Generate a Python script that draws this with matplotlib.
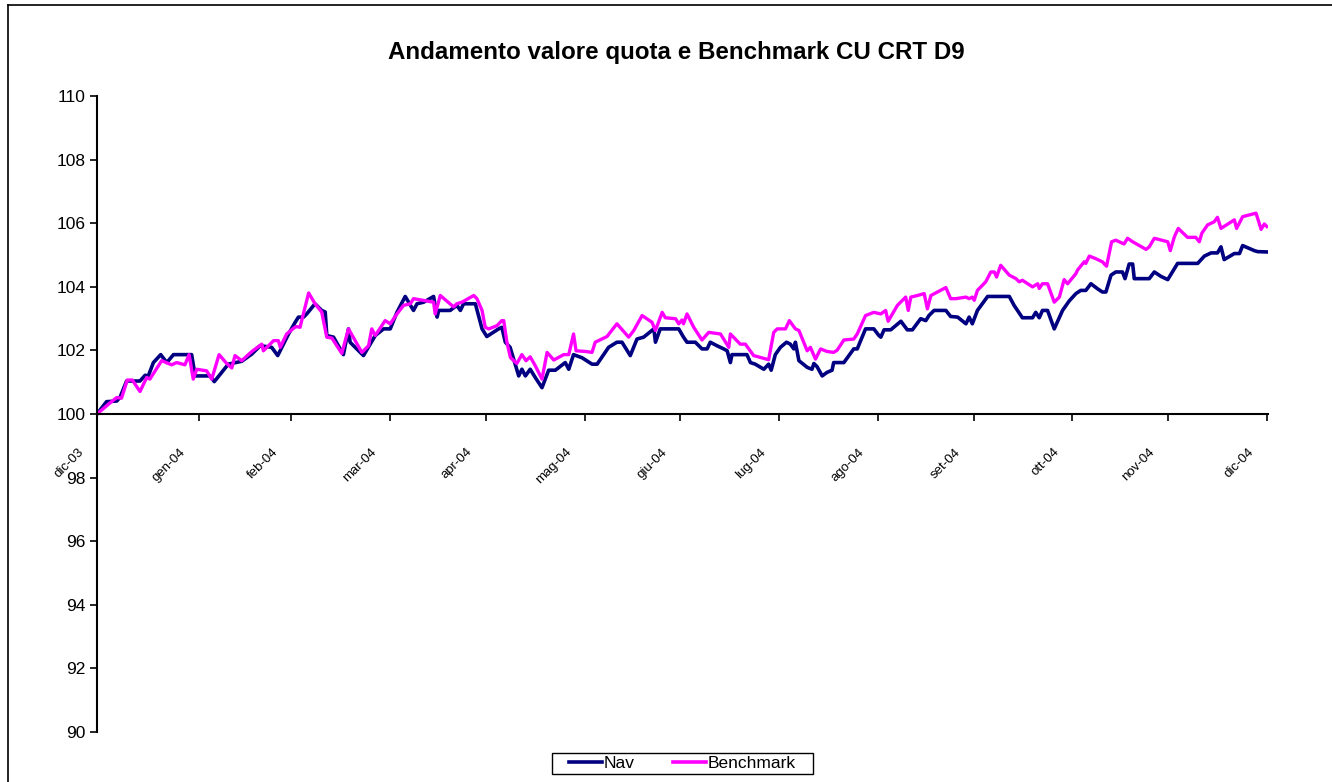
import pandas as pd
import matplotlib
matplotlib.use("Agg")
import matplotlib.pyplot as plt
import matplotlib.dates as mdates
import matplotlib.transforms as mtransforms
from matplotlib.lines import Line2D
from matplotlib.patches import Rectangle

plt.rcParams["font.family"] = ["Liberation Sans", "DejaVu Sans"]

# --- DATA (giorni dal 30/12/2003) ---
START = pd.Timestamp("2003-12-30")

nav_days = [0, 3.0, 6.2, 7.2, 9.3, 13.5, 15.1, 16.1, 17.7, 20.0, 21.9, 24.0, 29.7, 30.8, 35.5,
            36.8, 41.2, 45.4, 48.6, 51.2, 54.8, 56.7, 60.1, 62.2, 63.2, 64.8, 65.8, 68.4, 70.5,
            71.6, 72.1, 74.2, 77.3, 78.9, 79.4, 83.6, 85.7, 87.3, 89.9, 92.0, 94.1, 96.7, 99.3,
            100.4, 102.5, 105.6, 106.7, 107.2, 110.8, 112.9, 114.0, 115.0, 118.7, 120.8, 122.3,
            126.0, 127.0, 128.1, 129.6, 131.2, 132.3, 133.3, 134.4, 135.9, 137.5, 139.6, 141.7,
            143.8, 146.9, 148.0, 149.5, 152.2, 155.3, 156.9, 160.5, 163.1, 164.7, 167.3, 169.4,
            171.5, 174.7, 175.2, 176.7, 182.5, 184.0, 185.1, 187.7, 189.8, 191.4, 192.4, 194.5,
            196.6, 197.7, 198.7, 199.2, 203.9, 205.0, 206.5, 209.2, 210.7, 211.5, 212.8, 214.4,
            216.3, 217.5, 218.6, 219.1, 220.2, 222.8, 224.3, 224.9, 225.9, 227.5, 229.0, 230.6,
            231.1, 234.3, 237.4, 238.5, 241.1, 243.7, 245.3, 245.9, 246.9, 249.0, 252.2, 254.2,
            255.8, 258.4, 260.0, 261.0, 262.6, 266.3, 267.8, 270.0, 272.6, 273.6, 274.6, 276.2,
            279.4, 286.2, 287.7, 290.3, 293.5, 294.5, 295.6, 296.6, 298.2, 300.3, 302.9, 305.0,
            307.1, 308.6, 310.2, 311.8, 313.9, 315.4, 316.5, 318.1, 319.6, 321.7, 322.5, 323.8,
            324.9, 325.4, 330.1, 331.7, 333.8, 335.9, 339.0, 345.3, 347.4, 349.5, 351.5, 352.6,
            353.6, 356.8, 358.4, 359.4, 363.1, 364.1, 367.0]
nav_vals = [100.0, 100.39, 100.41, 100.52, 101.04, 101.04, 101.22, 101.2, 101.62, 101.87, 101.62,
            101.87, 101.87, 101.2, 101.2, 101.02, 101.57, 101.66, 101.89, 102.15, 102.1, 101.84,
            102.52, 102.89, 103.05, 103.05, 103.15, 103.47, 103.26, 103.21, 102.47, 102.42, 101.87,
            102.68, 102.26, 101.84, 102.2, 102.47, 102.68, 102.68, 103.2, 103.7, 103.26, 103.47,
            103.52, 103.7, 103.05, 103.26, 103.26, 103.42, 103.26, 103.47, 103.47, 102.68, 102.44,
            102.68, 102.73, 102.26, 102.1, 101.57, 101.2, 101.41, 101.2, 101.41, 101.15, 100.83,
            101.38, 101.38, 101.62, 101.41, 101.87, 101.77, 101.57, 101.57, 102.1, 102.26, 102.26,
            101.84, 102.36, 102.42, 102.68, 102.26, 102.68, 102.68, 102.42, 102.26, 102.26, 102.05,
            102.05, 102.26, 102.15, 102.05, 101.99, 101.62, 101.87, 101.87, 101.62, 101.57, 101.41,
            101.57, 101.38, 101.87, 102.1, 102.26, 102.2, 102.05, 102.26, 101.68, 101.47, 101.41,
            101.59, 101.49, 101.2, 101.31, 101.38, 101.62, 101.62, 102.05, 102.05, 102.68, 102.68,
            102.47, 102.42, 102.65, 102.65, 102.92, 102.65, 102.65, 103.0, 102.94, 103.1, 103.26,
            103.26, 103.07, 103.05, 102.84, 103.05, 102.84, 103.26, 103.7, 103.7, 103.42, 103.03,
            103.03, 103.2, 103.03, 103.26, 103.26, 102.68, 103.26, 103.56, 103.79, 103.89, 103.89,
            104.1, 103.94, 103.84, 103.84, 104.37, 104.47, 104.47, 104.26, 104.72, 104.72, 104.26,
            104.26, 104.47, 104.33, 104.23, 104.74, 104.74, 104.97, 105.07, 105.07, 105.26, 104.86,
            105.05, 105.05, 105.3, 105.14, 105.11, 105.1]

bmk_days = [0, 3.6, 6.2, 7.7, 9.5, 11.1, 13.5, 15.6, 16.6, 20.3, 23.4, 25.0, 27.6, 28.9, 30.2,
            31.3, 34.4, 36.0, 38.3, 40.7, 42.3, 43.3, 45.4, 48.6, 51.7, 52.2, 55.4, 56.9, 57.5,
            59.5, 62.2, 62.7, 63.7, 66.4, 68.4, 70.5, 72.1, 73.7, 76.8, 78.9, 83.1, 85.2, 86.2,
            87.3, 90.4, 92.0, 94.1, 96.2, 98.3, 99.3, 105.6, 106.1, 107.7, 111.9, 112.9, 114.5,
            118.2, 119.2, 120.8, 121.8, 122.9, 125.5, 127.0, 127.6, 128.6, 129.7, 131.7, 133.3,
            134.6, 135.9, 137.5, 139.6, 141.2, 143.3, 146.4, 148.0, 149.5, 150.3, 153.2, 155.3,
            156.3, 160.0, 163.1, 166.8, 168.4, 171.0, 174.1, 175.2, 177.3, 178.3, 181.5, 182.5,
            183.5, 184.0, 185.1, 187.2, 189.8, 191.9, 195.6, 198.2, 198.7, 201.8, 203.4, 204.5,
            206.0, 210.7, 212.3, 213.4, 216.0, 217.2, 219.1, 220.2, 222.8, 223.8, 225.4, 227.0,
            229.0, 231.1, 232.2, 234.3, 237.4, 238.5, 241.1, 243.7, 245.9, 247.4, 248.2, 251.1,
            253.7, 254.5, 255.3, 257.4, 259.5, 260.5, 261.6, 266.3, 267.8, 269.4, 272.6, 273.6,
            274.6, 275.2, 276.2, 278.8, 280.4, 281.5, 282.2, 283.5, 286.2, 288.3, 289.3, 290.3,
            293.5, 295.1, 295.6, 296.6, 298.2, 300.3, 301.9, 303.4, 304.5, 307.1, 307.6, 309.7,
            310.2, 311.3, 313.3, 315.4, 316.7, 318.3, 319.6, 322.2, 323.3, 324.9, 329.1, 330.1,
            331.7, 334.8, 335.9, 336.7, 338.0, 339.2, 342.1, 344.7, 345.8, 346.6, 348.4, 350.5,
            351.5, 352.6, 356.8, 357.5, 359.4, 363.6, 365.2, 366.2, 367.0]
bmk_vals = [100.0, 100.31, 100.52, 100.5, 101.07, 101.07, 100.71, 101.15, 101.1, 101.68, 101.55,
            101.62, 101.55, 101.87, 101.1, 101.41, 101.36, 101.1, 101.87, 101.59, 101.45, 101.84,
            101.68, 101.97, 102.2, 101.99, 102.31, 102.31, 102.1, 102.52, 102.74, 102.75, 102.73,
            103.81, 103.47, 103.21, 102.42, 102.39, 101.91, 102.68, 101.94, 102.15, 102.68, 102.47,
            102.94, 102.84, 103.15, 103.42, 103.47, 103.63, 103.52, 103.15, 103.73, 103.37, 103.47,
            103.52, 103.73, 103.63, 103.26, 102.73, 102.68, 102.78, 102.94, 102.94, 102.26, 101.78,
            101.59, 101.87, 101.68, 101.8, 101.52, 101.1, 101.94, 101.7, 101.87, 101.87, 102.52,
            101.99, 101.97, 101.94, 102.26, 102.44, 102.84, 102.42, 102.63, 103.1, 102.89, 102.63,
            103.2, 103.03, 103.0, 102.84, 102.96, 102.84, 103.15, 102.73, 102.33, 102.57, 102.52,
            102.1, 102.52, 102.2, 102.2, 102.05, 101.84, 101.71, 102.57, 102.68, 102.68, 102.94,
            102.68, 102.63, 101.99, 102.1, 101.73, 102.05, 101.97, 101.94, 102.01, 102.33, 102.36,
            102.52, 103.1, 103.2, 103.15, 103.26, 102.92, 103.42, 103.68, 103.26, 103.68, 103.73,
            103.79, 103.31, 103.73, 103.98, 103.63, 103.63, 103.68, 103.63, 103.68, 103.58, 103.89,
            104.16, 104.47, 104.47, 104.31, 104.68, 104.37, 104.26, 104.16, 104.21, 104.0, 104.1,
            103.95, 104.1, 104.1, 103.52, 103.68, 104.23, 104.1, 104.42, 104.53, 104.79, 104.74,
            104.97, 104.89, 104.79, 104.65, 105.42, 105.47, 105.35, 105.53, 105.42, 105.18, 105.26,
            105.53, 105.45, 105.42, 105.14, 105.58, 105.84, 105.56, 105.56, 105.42, 105.69, 105.95,
            106.05, 106.19, 105.84, 106.11, 105.84, 106.21, 106.32, 105.81, 105.98, 105.9]

month_labels = ["dic-03", "gen-04", "feb-04", "mar-04", "apr-04", "mag-04", "giu-04",
                "lug-04", "ago-04", "set-04", "ott-04", "nov-04", "dic-04"]
y_ticks = list(range(90, 111, 2))

# --- GRAFICO ---
nav_x = mdates.date2num(START + pd.to_timedelta(nav_days, unit="D"))
bmk_x = mdates.date2num(START + pd.to_timedelta(bmk_days, unit="D"))
tick_x = mdates.date2num([START] + list(pd.date_range("2004-01-31", periods=12,
                                                      freq=pd.offsets.MonthEnd())))
x0 = mdates.date2num(START)

fig = plt.figure(figsize=(13.32, 7.82), dpi=100)
ax = fig.add_axes([0.0728, 0.064, 0.8795, 0.813])

ax.plot(nav_x, nav_vals, color="#000080", linewidth=2.6, solid_joinstyle="round")
ax.plot(bmk_x, bmk_vals, color="#FF00FF", linewidth=2.4, solid_joinstyle="round")

ax.spines["top"].set_visible(False)
ax.spines["right"].set_visible(False)
ax.spines["bottom"].set_position(("data", 100))
ax.spines["left"].set_linewidth(1.5)
ax.spines["bottom"].set_linewidth(1.5)
ax.tick_params(axis="y", direction="out", length=5, width=1.2, pad=3, labelsize=12.5)
ax.tick_params(axis="x", direction="out", length=5, width=1.2, pad=18, labelsize=9.5,
               labelrotation=45)

ax.set_ylim(90, 110)
ax.set_xlim(x0, x0 + 367.5)
ax.set_yticks(y_ticks)
ax.set_yticklabels([str(v) for v in y_ticks])
ax.set_xticks(tick_x)
ax.set_xticklabels(month_labels)
shift = mtransforms.ScaledTranslation(-0.11, 0, fig.dpi_scale_trans)
for lbl in ax.get_xticklabels():
    lbl.set_ha("right")
    lbl.set_va("top")
    lbl.set_rotation(45)
    lbl.set_transform(lbl.get_transform() + shift)

fig.text(0.5075, 0.933, "Andamento valore quota e Benchmark CU CRT D9",
         ha="center", va="center", fontsize=17.4, fontweight="bold")

handles = [Line2D([], [], color="#000080", linewidth=2.6),
           Line2D([], [], color="#FF00FF", linewidth=2.6)]
fig.legend(handles, ["Nav", "Benchmark"], loc="center", bbox_to_anchor=(0.512, 0.0237),
           ncol=2, fontsize=12.5, frameon=False,
           handlelength=1.9, handletextpad=0.1, columnspacing=2.2, borderpad=0.05)
fig.add_artist(Rectangle((0.4144, 0.0102), 0.196, 0.0269, transform=fig.transFigure,
                         fill=False, edgecolor="black", linewidth=1.0))

# bordo esterno dell'area grafico
fig.add_artist(Line2D([0.006, 0.006], [0, 0.994], color="black", linewidth=1.2,
                      transform=fig.transFigure))
fig.add_artist(Line2D([0.006, 1.0], [0.994, 0.994], color="black", linewidth=1.2,
                      transform=fig.transFigure))

fig.savefig("out.png", dpi=100)
